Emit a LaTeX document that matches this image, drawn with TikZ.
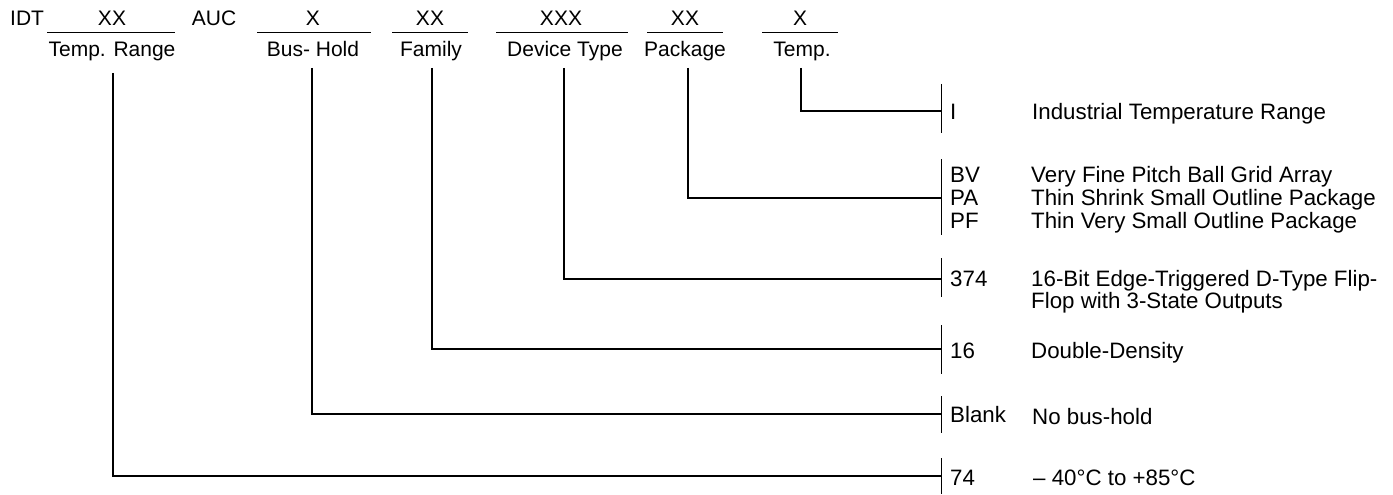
\documentclass[tikz,border=0pt]{standalone}
\usepackage{fontspec}
\setmainfont{Liberation Sans}
\begin{document}
\begin{tikzpicture}[x=1pt,y=-1pt,
  toptxt/.style={inner sep=0pt,anchor=base,font=\fontsize{21}{25}\selectfont},
  rtxt/.style={inner sep=0pt,anchor=base west,font=\fontsize{22.3}{24}\selectfont,align=left},
  uline/.style={line width=0.9pt},
  conn/.style={line width=1.2pt},
  brk/.style={line width=1pt}]
\useasboundingbox (0,0) rectangle (1393,495);
% top row
\node[toptxt,anchor=base west] (idt) at (10,26) {IDT};
\node[toptxt] (f1) at (112,26) {XX};
\node[toptxt] (auc) at (214,26) {AUC};
\node[toptxt] (f2) at (313,26) {X};
\node[toptxt] (f3) at (430,26) {XX};
\node[toptxt] (f4) at (561,26) {XXX};
\node[toptxt] (f5) at (685,26) {XX};
\node[toptxt] (f6) at (800,26) {X};
\draw[uline] (47,32) -- (175,32);
\draw[uline] (257,32) -- (371,32);
\draw[uline] (392,32) -- (468,32);
\draw[uline] (496,32) -- (628,32);
\draw[uline] (647,32) -- (723,32);
\draw[uline] (762,32) -- (838,32);
% labels
\node[toptxt] (l1) at (112,57) {Temp. Range};
\node[toptxt] (l2) at (313,57) {Bus- Hold};
\node[toptxt] (l3) at (431,57) {Family};
\node[toptxt] (l4) at (565,57) {Device Type};
\node[toptxt] (l5) at (685,57) {Package};
\node[toptxt] (l6) at (802,57) {Temp.};
% connector start points
\coordinate (s1) at (113,73);
\coordinate (s2) at (312,68);
\coordinate (s3) at (432,68);
\coordinate (s4) at (564,68);
\coordinate (s5) at (688,68);
\coordinate (s6) at (801,68);
% bracket mid points
\coordinate (e6) at (941,111);
\coordinate (e5) at (941,198);
\coordinate (e4) at (941,279);
\coordinate (e3) at (941,349);
\coordinate (e2) at (941,414);
\coordinate (e1) at (941,476);
% brackets
\draw[brk] (941,84) -- (941,133);
\draw[brk] (941,159) -- (941,235);
\draw[brk] (941,258) -- (941,297);
\draw[brk] (941,325) -- (941,374);
\draw[brk] (941,396) -- (941,433);
\draw[brk] (941,458) -- (941,494);
% connectors
\draw[conn] (s6) |- (e6);
\draw[conn] (s5) |- (e5);
\draw[conn] (s4) |- (e4);
\draw[conn] (s3) |- (e3);
\draw[conn] (s2) |- (e2);
\draw[conn] (s1) |- (e1);
% right texts
\node[rtxt] (c6) at (950,119) {I};
\node[rtxt] (d6) at (1032,119) {Industrial Temperature Range};
\node[rtxt] (c5a) at (950,182) {BV};
\node[rtxt] (d5a) at (1031,182) {Very Fine Pitch Ball Grid Array};
\node[rtxt] (c5b) at (950,205) {PA};
\node[rtxt] (d5b) at (1031,205) {Thin Shrink Small Outline Package};
\node[rtxt] (c5c) at (950,228) {PF};
\node[rtxt] (d5c) at (1031,228) {Thin Very Small Outline Package};
\node[rtxt] (c4) at (950,286) {374};
\node[rtxt] (d4a) at (1031,286) {16-Bit Edge-Triggered D-Type Flip-};
\node[rtxt] (d4b) at (1031,308) {Flop with 3-State Outputs};
\node[rtxt] (c3) at (950,358) {16};
\node[rtxt] (d3) at (1031,358) {Double-Density};
\node[rtxt] (c2) at (950,422) {Blank};
\node[rtxt] (d2) at (1032,424) {No bus-hold};
\node[rtxt] (c1) at (950,485) {74};
\node[rtxt] (d1) at (1033,485) {– 40°C to +85°C};
\end{tikzpicture}
\end{document}
